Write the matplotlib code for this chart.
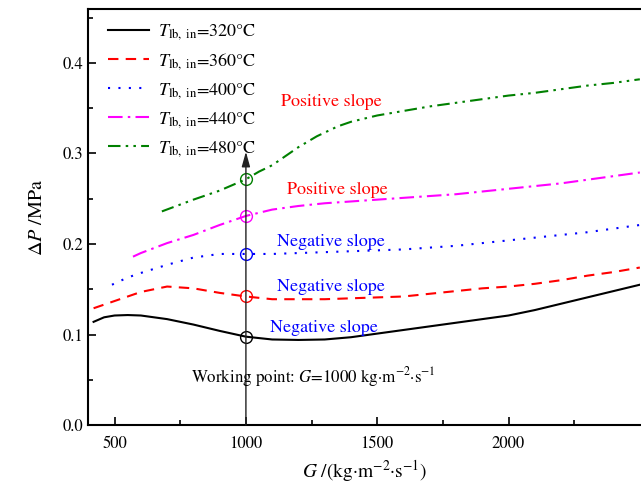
import matplotlib
matplotlib.use('Agg')
import matplotlib.pyplot as plt

plt.rcParams['font.family'] = 'STIXGeneral'
plt.rcParams['mathtext.fontset'] = 'stix'

# pressure drop vs mass flux for each inlet temperature
G_320 = [420, 460, 500, 550, 600, 700, 800, 900, 1000, 1100, 1200, 1300, 1400, 1500,
         1600, 1700, 1800, 1900, 2000, 2100, 2200, 2300, 2400, 2500]
dP_320 = [0.114, 0.119, 0.121, 0.1215, 0.121, 0.117, 0.111, 0.104, 0.0976, 0.0945, 0.094,
          0.0945, 0.097, 0.101, 0.105, 0.109, 0.113, 0.117, 0.121, 0.127, 0.134, 0.141, 0.148, 0.155]

G_360 = [420, 500, 600, 700, 800, 900, 1000, 1100, 1200, 1300, 1400, 1500,
         1600, 1700, 1800, 1900, 2000, 2100, 2200, 2300, 2400, 2500]
dP_360 = [0.129, 0.137, 0.147, 0.153, 0.151, 0.146, 0.142, 0.139, 0.139, 0.139, 0.140, 0.141,
          0.142, 0.145, 0.148, 0.151, 0.153, 0.156, 0.160, 0.165, 0.169, 0.174]

G_400 = [490, 550, 600, 700, 800, 900, 1000, 1100, 1200, 1300, 1400, 1500,
         1600, 1700, 1800, 1900, 2000, 2100, 2200, 2300, 2400, 2500]
dP_400 = [0.155, 0.163, 0.168, 0.177, 0.185, 0.189, 0.189, 0.189, 0.190, 0.191, 0.192, 0.193,
          0.194, 0.196, 0.198, 0.201, 0.204, 0.207, 0.210, 0.213, 0.217, 0.221]

G_440 = [570, 600, 700, 800, 900, 1000, 1100, 1200, 1300, 1400, 1500,
         1600, 1700, 1800, 1900, 2000, 2100, 2200, 2300, 2400, 2500]
dP_440 = [0.186, 0.190, 0.201, 0.210, 0.221, 0.231, 0.238, 0.242, 0.245, 0.247, 0.249,
          0.251, 0.253, 0.255, 0.258, 0.261, 0.264, 0.267, 0.271, 0.275, 0.279]

G_480 = [680, 800, 900, 1000, 1050, 1100, 1150, 1200, 1270, 1350, 1400, 1500,
         1600, 1700, 1800, 1900, 2000, 2100, 2200, 2300, 2400, 2500]
dP_480 = [0.236, 0.249, 0.259, 0.2715, 0.280, 0.287, 0.297, 0.307, 0.319, 0.330, 0.335, 0.342,
          0.347, 0.352, 0.356, 0.360, 0.364, 0.367, 0.371, 0.375, 0.378, 0.382]

temps = ['320', '360', '400', '440', '480']
G_work = 1000

series = [
    (G_320, dP_320, 'black', '-'),
    (G_360, dP_360, 'red', (0, (5, 3.5))),
    (G_400, dP_400, 'blue', (0, (1, 4))),
    (G_440, dP_440, 'magenta', (0, (7, 2.5, 1.2, 2.5))),
    (G_480, dP_480, 'green', (0, (6, 2.5, 1.2, 2.5, 1.2, 2.5))),
]

fig = plt.figure(figsize=(6.41, 4.93), dpi=100)
ax = fig.add_axes([0.1378, 0.1379, 0.8604, 0.8445])

for (g, dp, c, ls), t in zip(series, temps):
    ax.plot(g, dp, color=c, linestyle=ls, lw=1.5,
            label=r'$T_{\rm lb,\ in}$=' + t + '°C')

# working point markers
for g, dp, c, ls in series:
    ax.plot(G_work, dp[g.index(G_work)], 'o', mfc='none', mec=c, ms=8.5, mew=1.0)

ax.annotate('', xy=(G_work, 0.302), xytext=(G_work, 0.0),
            arrowprops=dict(arrowstyle='-|>,head_length=0.9,head_width=0.25',
                            color='#222222', lw=1.0, shrinkA=0, shrinkB=0))

ax.text(1324, 0.357, 'Positive slope', color='red', fontsize=13, ha='center', va='center')
ax.text(1347, 0.260, 'Positive slope', color='red', fontsize=13, ha='center', va='center')
ax.text(1324, 0.202, 'Negative slope', color='blue', fontsize=13, ha='center', va='center')
ax.text(1324, 0.1525, 'Negative slope', color='blue', fontsize=13, ha='center', va='center')
ax.text(1298, 0.107, 'Negative slope', color='blue', fontsize=13, ha='center', va='center')
ax.text(792, 0.053, 'Working point: $G$=1000 kg·m$^{-2}$·s$^{-1}$',
        fontsize=12.2, ha='left', va='center')

ax.set_xlim(400, 2500)
ax.set_ylim(0, 0.46)
ax.set_xticks([500, 1000, 1500, 2000])
ax.set_xticks([750, 1250, 1750, 2250], minor=True)
ax.set_yticks([0.0, 0.1, 0.2, 0.3, 0.4])
ax.set_yticks([0.05, 0.15, 0.25, 0.35, 0.45], minor=True)
ax.set_yticklabels(['0.0', '0.1', '0.2', '0.3', '0.4'])
ax.tick_params(which='both', direction='in', top=False, right=False, labelsize=12)
ax.tick_params(which='major', length=6, width=1.2)
ax.tick_params(which='minor', length=3.5, width=1.2)
ax.tick_params(axis='x', pad=8)
ax.spines['right'].set_visible(False)
for s in ['left', 'bottom', 'top']:
    ax.spines[s].set_linewidth(1.5)

ax.set_xlabel('$G$ /(kg·m$^{-2}$·s$^{-1}$)', fontsize=14, labelpad=4)
ax.set_ylabel(r'$\Delta P$ /MPa', fontsize=14.5, labelpad=12)

ax.legend(loc='upper left', bbox_to_anchor=(0.012, 0.998), frameon=False, fontsize=13,
          handlelength=2.3, labelspacing=0.5, borderaxespad=0.3, handletextpad=0.5)

fig.savefig('out.png', dpi=100)
